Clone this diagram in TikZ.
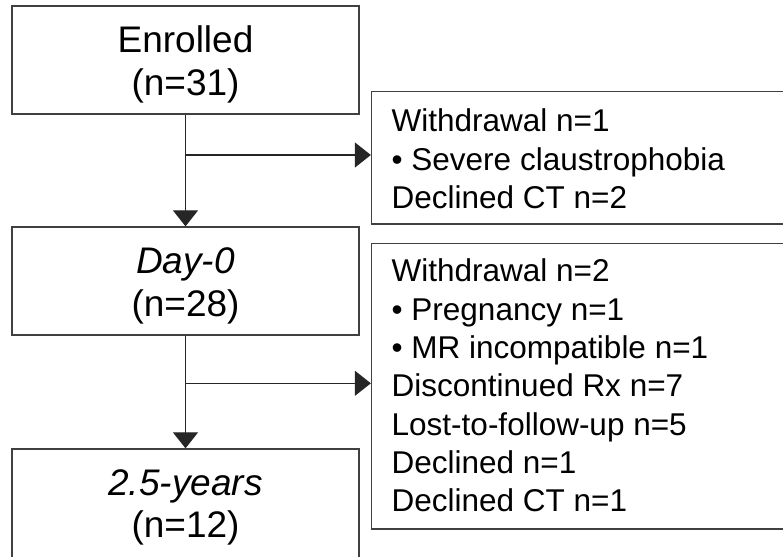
\documentclass[tikz,border=0pt]{standalone}
\usepackage{fontspec}
\setmainfont{Liberation Sans}
\usetikzlibrary{arrows.meta}
\begin{document}
\begin{tikzpicture}[x=1pt,y=-1pt,
  box/.style={draw=black!75,line width=1.3pt,rectangle,inner sep=0pt},
  big/.style={font=\fontsize{37}{43}\selectfont,inner sep=0pt,anchor=base},
  small/.style={font=\fontsize{31.5}{38}\selectfont,inner sep=0pt,anchor=base west},
  flow/.style={draw=black!85,line width=1.2pt,-{Triangle[length=16pt,width=25pt]}}]
\useasboundingbox (0,0) rectangle (783,556);
\clip (0,0) rectangle (783,556);
% left boxes
\node[box,minimum width=347pt,minimum height=108pt] (enr) at (185.5,60) {};
\node[box,minimum width=347pt,minimum height=108pt] (day) at (185.5,281) {};
\node[box,minimum width=347pt,minimum height=112pt] (yrs) at (185.5,505) {};
% right boxes (open to the right)
\node[box,minimum width=430pt,minimum height=132.3pt] (ex1) at (586.5,157.9) {};
\node[box,minimum width=430pt,minimum height=285.7pt] (ex2) at (586.5,386.2) {};
% left texts
\node[big] (t1a) at (185.5,53) {Enrolled};
\node[big] (t1b) at (185.5,95.5) {(n=31)};
\node[big] (t2a) at (185.5,273) {\itshape Day-0};
\node[big] (t2b) at (185.5,316.5) {(n=28)};
\node[big] (t3a) at (185.5,495) {\itshape 2.5-years};
\node[big] (t3b) at (185.5,537) {(n=12)};
% right texts
\node[small] (e1a) at (391.5,131.7) {Withdrawal n=1};
\node[small] (e1b) at (391.5,170) {• Severe claustrophobia};
\node[small] (e1c) at (391.5,208.3) {Declined CT n=2};
\node[small] (e2a) at (391.5,281.7) {Withdrawal n=2};
\node[small] (e2b) at (391.5,320) {• Pregnancy n=1};
\node[small] (e2c) at (391.5,358.3) {• MR incompatible n=1};
\node[small] (e2d) at (391.5,396.7) {Discontinued Rx n=7};
\node[small] (e2e) at (391.5,435) {Lost-to-follow-up n=5};
\node[small] (e2f) at (391.5,473.3) {Declined n=1};
\node[small] (e2g) at (391.5,511.7) {Declined CT n=1};
% connectors
\draw[flow] (enr.south) -- (day.north);
\draw[flow] (day.south) -- (yrs.north);
\coordinate (br1) at (185.5,155);
\coordinate (br2) at (185.5,383.3);
\draw[flow] (br1) -- (br1 -| ex1.west);
\draw[flow] (br2) -- (br2 -| ex2.west);
\end{tikzpicture}
\end{document}
